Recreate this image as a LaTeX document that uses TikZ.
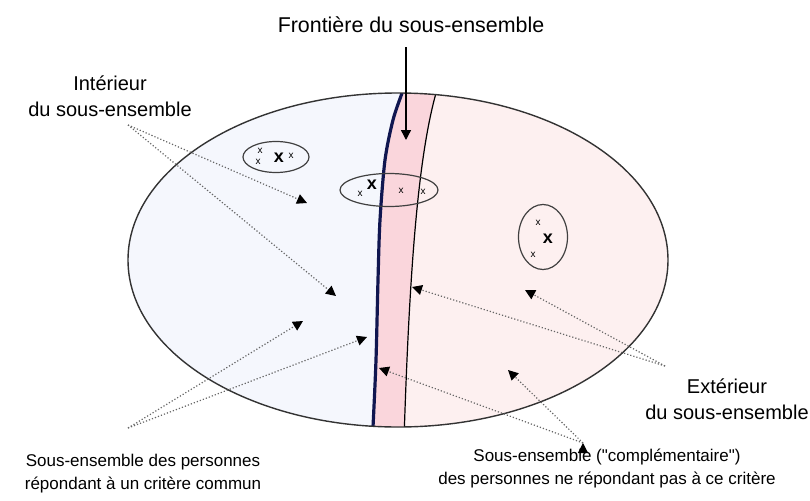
\documentclass[tikz,border=0pt]{standalone}
\usepackage{fontspec}
\setmainfont{Liberation Sans}
\usepackage{xcolor}
\usepackage{tikz}
\usetikzlibrary{positioning,calc,shapes,arrows.meta}
\definecolor{fondint}{HTML}{F5F7FD}
\definecolor{fondext}{HTML}{FDF0F0}
\definecolor{bande}{HTML}{FAD6DC}
\definecolor{marine}{HTML}{101650}
\tikzstyle{grp}= [ellipse, draw=black!75, line width=0.6pt, inner sep=0pt]
\tikzstyle{pt}= [inner sep=0pt, font=\fontsize{5}{5}\selectfont]
\tikzstyle{ptx}= [inner sep=0pt, font=\fontsize{9}{9}\selectfont\bfseries]
\tikzstyle{lab}= [align=center, inner sep=0pt, font=\fontsize{10}{13}\selectfont]
\tikzstyle{labb}= [align=center, inner sep=0pt, font=\fontsize{8.5}{11.5}\selectfont]
\tikzstyle{fleche}= [densely dotted, draw=black!60, line width=0.6pt, -{Triangle[length=5pt,width=5pt,color=black]}]

\begin{document}
\begin{tikzpicture}
					\pgfsetxvec{\pgfpoint{0.5pt}{0.0pt}} 
					\pgfsetyvec{\pgfpoint{0.0pt}{0.5pt}} 
					\useasboundingbox (0,0) rectangle (810,500);
					% fonds des trois zones
					\begin{scope}
					\clip (398,240) ellipse (270 and 167);
					\fill[fondext] (120,60) rectangle (680,420);
					\fill[bande] plot[smooth] coordinates {(406,420) (402,407) (393,380) (385,340) (380,280) (378,220) (376,140) (373,73) (372,60)} -- (404,60) .. controls (410,250) and (420,360) .. (440,420) -- cycle;
					\fill[fondint] (120,60) -- (120,420) -- plot[smooth] coordinates {(406,420) (402,407) (393,380) (385,340) (380,280) (378,220) (376,140) (373,73) (372,60)} -- cycle;
					\draw[marine, line width=1.6pt] plot[smooth] coordinates {(406,420) (402,407) (393,380) (385,340) (380,280) (378,220) (376,140) (373,73) (372,60)};
					\draw[black, line width=0.6pt] (404,60) .. controls (410,250) and (420,360) .. (440,420);
					\end{scope}
					\draw[black!80, line width=0.7pt] (398,240) ellipse (270 and 167);
					% groupes
					\node[grp, minimum width=33pt, minimum height=15.5pt] at (276,343) (zoneA) {};
					\node[grp, minimum width=49pt, minimum height=16.5pt] at (389,310) (zoneB) {};
					\node[grp, minimum width=24.5pt, minimum height=32.5pt] at (543,263) (zoneC) {};
					\node[pt] at (260,349) (a1) {x};
					\node[pt] at (258,338) (a2) {x};
					\node[ptx] at (279,342) (a3) {x};
					\node[pt] at (291,344) (a4) {x};
					\node[ptx] at (372,315) (b1) {x};
					\node[pt] at (360,306) (b2) {x};
					\node[pt] at (401,309) (b3) {x};
					\node[pt] at (423,308) (b4) {x};
					\node[pt] at (538,277) (c1) {x};
					\node[ptx] at (548,261) (c2) {x};
					\node[pt] at (533,245) (c3) {x};
					% etiquettes
					\node[lab, font=\fontsize{10.7}{13}\selectfont] at (411,475) (front) {Fronti\`ere du sous-ensemble};
					\node[lab] at (110,404) (inter) {Int\'erieur\\du sous-ensemble};
					\node[lab] at (727,101) (exter) {Ext\'erieur\\du sous-ensemble};
					\node[labb] at (143,26.5) (sens) {Sous-ensemble des personnes\\r\'epondant \`a un crit\`ere commun};
					\node[labb] at (607,31.5) (scomp) {Sous-ensemble (\textquotedbl compl\'ementaire\textquotedbl)\\des personnes ne r\'epondant pas \`a ce crit\`ere};
					% fleches
					\coordinate (fA) at (406,453); \coordinate (fB) at (406,360);
					\coordinate (iP) at (128,375); \coordinate (i1) at (307,297); \coordinate (i2) at (336,204);
					\coordinate (sP) at (128,72); \coordinate (s1) at (303,179); \coordinate (s2) at (367,163);
					\coordinate (eP) at (665,134); \coordinate (e1) at (412,213); \coordinate (e2) at (525,210);
					\coordinate (kP) at (583,57); \coordinate (k1) at (379,132); \coordinate (k2) at (508,130);
					\draw[line width=0.7pt, -{Triangle[length=5pt,width=5pt]}] (fA) -- (fB);
					\path[fleche] (iP) edge (i1) edge (i2) (sP) edge (s1) edge (s2) (eP) edge (e1) edge (e2) (kP) edge (k1) edge (k2);
				\end{tikzpicture}
\end{document}
